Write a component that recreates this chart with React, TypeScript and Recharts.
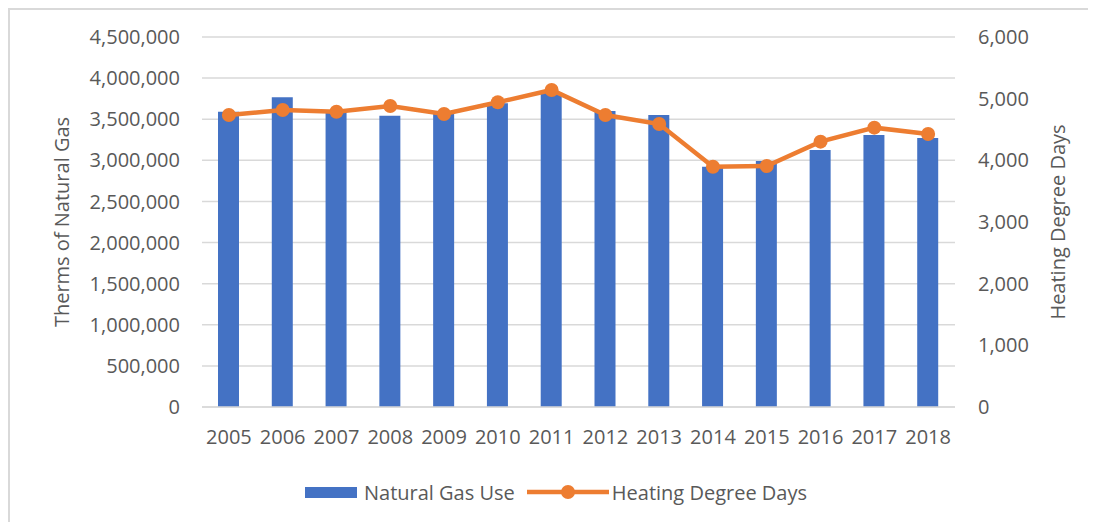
import React from "react";
import {
  ComposedChart,
  Bar,
  Line,
  XAxis,
  YAxis,
  CartesianGrid,
  Legend,
} from "recharts";

const years = ["2005", "2006", "2007", "2008", "2009", "2010", "2011", "2012", "2013", "2014", "2015", "2016", "2017", "2018"];
const gasUse = [3590000, 3767000, 3600000, 3543000, 3575000, 3694000, 3820000, 3600000, 3551000, 2923000, 2992000, 3126000, 3308000, 3272000];
const heatingDegreeDays = [4735, 4816, 4789, 4881, 4751, 4941, 5141, 4735, 4589, 3897, 3908, 4303, 4530, 4427];
const leftTicks = [0, 500000, 1000000, 1500000, 2000000, 2500000, 3000000, 3500000, 4000000, 4500000];
const rightTicks = [0, 1000, 2000, 3000, 4000, 5000, 6000];

const data = years.map((y, i) => ({ year: y, gas: gasUse[i], hdd: heatingDegreeDays[i] }));

const FONT = "'Open Sans', sans-serif";
const TEXT = "#595959";
const BLUE = "#4472C4";
const ORANGE = "#ED7D31";
const GRID = "#d9d9d9";

const fmt = (v: number) => v.toLocaleString("en-US");

const LeftLabel = (props: any) => {
  const vb = props.viewBox || {};
  const cx = (vb.x ?? 0) + 51;
  const cy = (vb.y ?? 0) + (vb.height ?? 0) / 2;
  return (
    <text x={cx} y={cy} transform={`rotate(-90 ${cx} ${cy})`} textAnchor="middle" dominantBaseline="central" fill={TEXT} fontSize={20} fontFamily={FONT}>
      Therms of Natural Gas
    </text>
  );
};

const RightLabel = (props: any) => {
  const vb = props.viewBox || {};
  const cx = (vb.x ?? 0) + 102;
  const cy = (vb.y ?? 0) + (vb.height ?? 0) / 2;
  return (
    <text x={cx} y={cy} transform={`rotate(-90 ${cx} ${cy})`} textAnchor="middle" dominantBaseline="central" fill={TEXT} fontSize={20} fontFamily={FONT}>
      Heating Degree Days
    </text>
  );
};

const LegendContent = () => (
  <div
    style={{
      display: "flex",
      justifyContent: "center",
      alignItems: "center",
      height: 24,
      paddingLeft: 6,
      fontFamily: FONT,
      fontSize: 20,
      color: TEXT,
      whiteSpace: "nowrap",
    }}
  >
    <span style={{ display: "inline-block", width: 52, height: 11, background: BLUE, marginRight: 7 }} />
    <span>Natural Gas Use</span>
    <svg width={82} height={16} style={{ marginLeft: 12, marginRight: 3 }}>
      <line x1={0} y1={8} x2={82} y2={8} stroke={ORANGE} strokeWidth={4.5} />
      <circle cx={41} cy={8} r={7} fill={ORANGE} />
    </svg>
    <span>Heating Degree Days</span>
  </div>
);

export default function App() {
  return (
    <div
      style={{
        position: "relative",
        width: 1086,
        height: 512,
        borderLeft: `2px solid ${GRID}`,
        borderTop: `2px solid ${GRID}`,
      }}
    >
      <div
        style={{
          position: "absolute",
          top: -26,
          left: -9,
          fontFamily: FONT,
          fontSize: 22,
          lineHeight: "22px",
          color: "#000",
          letterSpacing: 0.5,
          whiteSpace: "nowrap",
        }}
      >
        FIGURE 4: NATURAL GAS USE
      </div>
      <ComposedChart
        width={1086}
        height={512}
        data={data}
        margin={{ top: 27, right: 0, bottom: 41, left: 0 }}
        barCategoryGap="61%"
      >
        <CartesianGrid vertical={false} stroke={GRID} strokeWidth={1.5} yAxisId="left" />
        <XAxis
          dataKey="year"
          height={50}
          axisLine={{ stroke: GRID, strokeWidth: 1.5 }}
          tickLine={false}
          tickMargin={17}
          tick={{ fill: TEXT, fontSize: 20, fontFamily: FONT }}
          interval={0}
        />
        <YAxis
          yAxisId="left"
          width={192}
          domain={[0, 4500000]}
          ticks={leftTicks}
          tickFormatter={fmt}
          axisLine={false}
          tickLine={false}
          tickMargin={16}
          tick={{ fill: TEXT, fontSize: 20, fontFamily: FONT }}
          label={<LeftLabel />}
        />
        <YAxis
          yAxisId="right"
          orientation="right"
          width={141}
          domain={[0, 6000]}
          ticks={rightTicks}
          tickFormatter={fmt}
          axisLine={false}
          tickLine={false}
          tickMargin={17}
          tick={{ fill: TEXT, fontSize: 20, fontFamily: FONT }}
          label={<RightLabel />}
        />
        <Legend
          verticalAlign="bottom"
          content={<LegendContent />}
          wrapperStyle={{ top: 470, bottom: "auto", left: 0, width: 1086 }}
        />
        <Bar yAxisId="left" dataKey="gas" name="Natural Gas Use" fill={BLUE} barSize={21} isAnimationActive={false} />
        <Line
          yAxisId="right"
          dataKey="hdd"
          name="Heating Degree Days"
          stroke={ORANGE}
          strokeWidth={4.5}
          dot={{ r: 7, fill: ORANGE, stroke: ORANGE, strokeWidth: 0 }}
          activeDot={false}
          isAnimationActive={false}
        />
      </ComposedChart>
    </div>
  );
}
